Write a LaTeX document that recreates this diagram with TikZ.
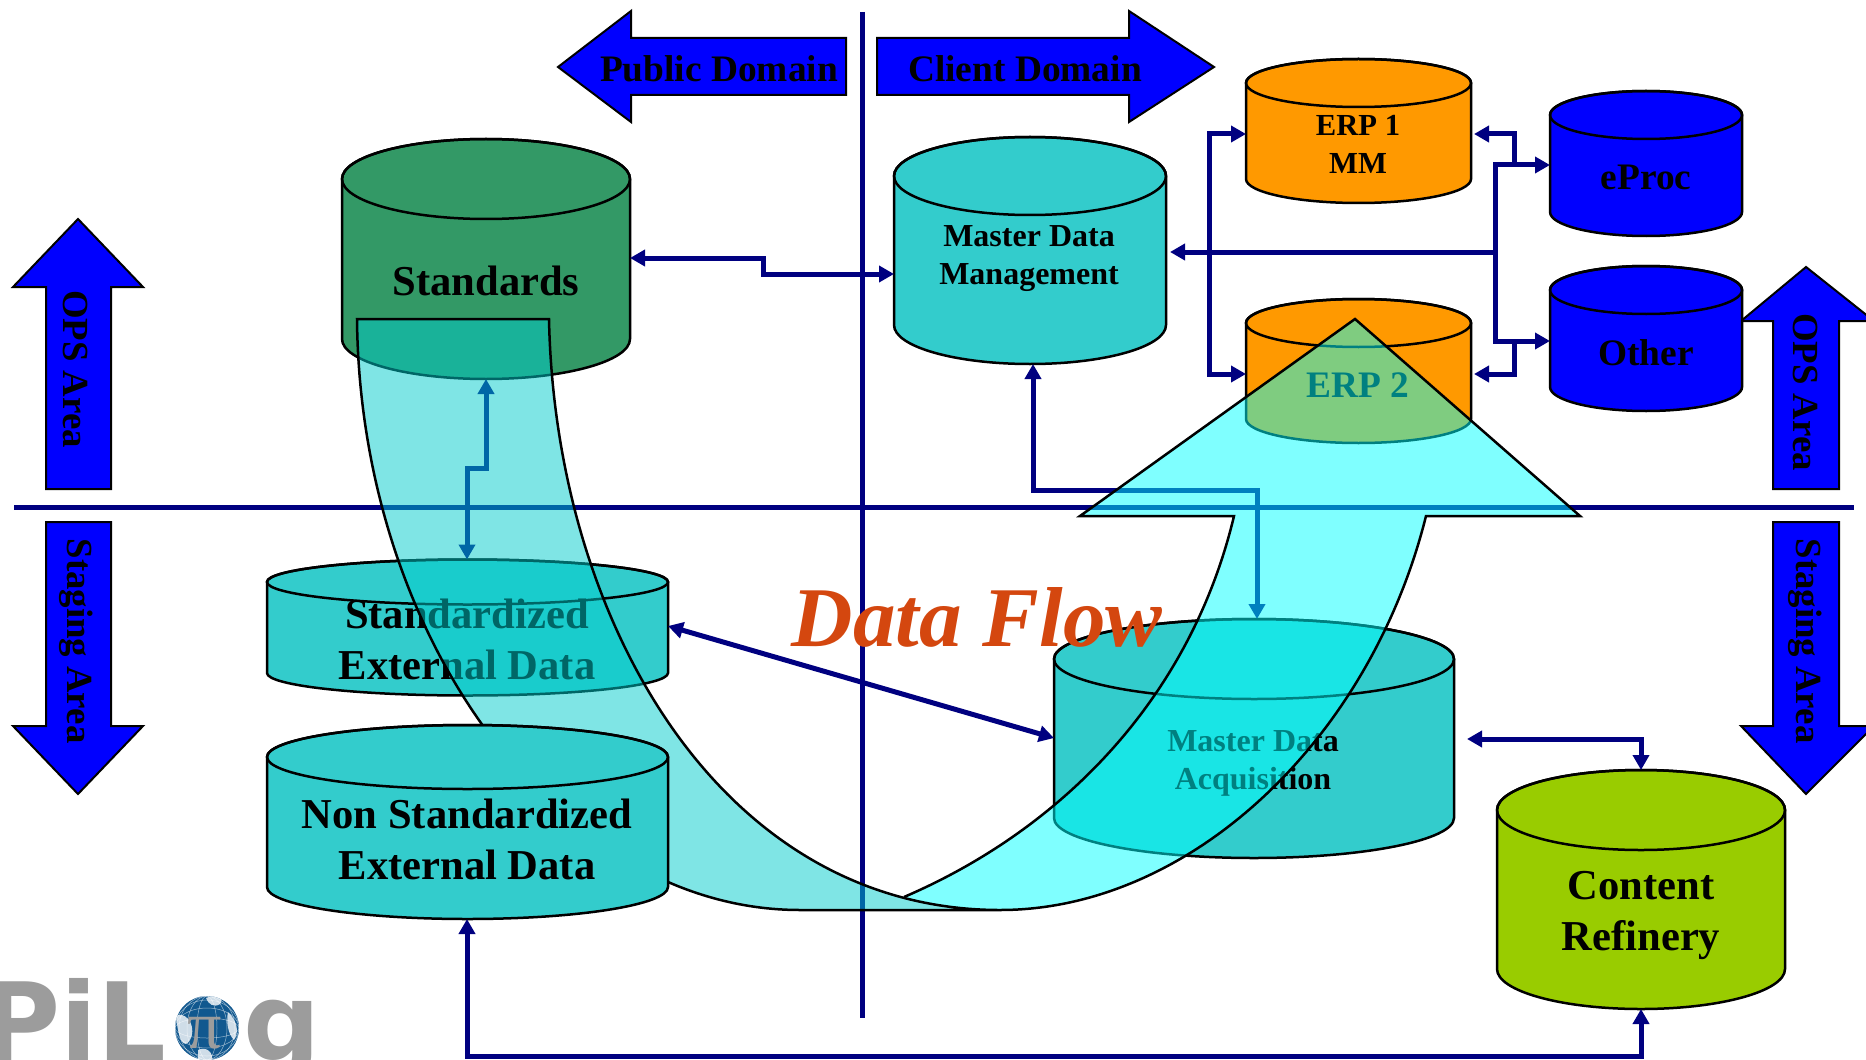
\documentclass[tikz,border=0pt]{standalone}
\usepackage{fontspec}
\setmainfont{Liberation Serif}
\newfontfamily\logofont{DejaVu Sans}
\usetikzlibrary{arrows.meta}
\definecolor{navy}{HTML}{000080}
\definecolor{stdgreen}{HTML}{339966}
\definecolor{tealc}{HTML}{33CCCC}
\definecolor{orangec}{HTML}{FF9900}
\definecolor{bluec}{HTML}{0000FF}
\definecolor{limec}{HTML}{99CC00}
\definecolor{flowtext}{HTML}{D4470F}
\definecolor{logogray}{HTML}{9C9C9C}
\definecolor{globeblue}{HTML}{11588F}
\definecolor{flowup}{HTML}{00FFFF}
\definecolor{flowdown}{HTML}{00CCCC}
\newcommand\cylinderbox[7]{%
  \pgfmathsetmacro\cylcx{(#2+#3)/2}%
  \pgfmathsetmacro\cylrx{(#3-#2)/4}%
  \pgfmathsetmacro\cylry{#6/2}%
  \pgfmathsetmacro\cylmid{(#4+#5)/2}%
  \pgfmathsetmacro\cylw{(#3-#2)/2}%
  \pgfmathsetmacro\cylh{(#5-#4+2*#6)/2}%
  \draw[shapeline,fill=#7] (#2,#4) -- (#2,#5)
     arc[start angle=180,end angle=360,x radius=\cylrx pt,y radius=\cylry pt]
     -- (#3,#4) arc[start angle=0,end angle=180,x radius=\cylrx pt,y radius=\cylry pt] -- cycle;
  \draw[shapeline] (\cylcx,#4) ellipse[x radius=\cylrx pt,y radius=\cylry pt];
  \node[inner sep=0,outer sep=0,minimum width=\cylw pt,minimum height=\cylh pt] (#1) at (\cylcx,\cylmid) {};
}
\tikzset{
  shapeline/.style={draw=black,line width=1.25pt},
  axis/.style={navy,line width=2.5pt},
  conn/.style={navy,line width=2.5pt,{Triangle[length=7.5pt,width=8pt]}-{Triangle[length=7.5pt,width=8pt]}},
  connin/.style={navy,line width=2.5pt,-{Triangle[length=7.5pt,width=8pt]}},
  dirarrow/.style={draw=black,line width=1pt,fill=bluec,miter limit=3},
  big/.style={font=\bfseries\fontsize{21.3}{25.5}\selectfont,align=center,inner sep=0},
  mid/.style={font=\bfseries\fontsize{18.7}{22}\selectfont,align=center,inner sep=0},
  vertlabel/.style={font=\bfseries\fontsize{18.4}{22}\selectfont,align=center,inner sep=0,rotate=-90},
  small/.style={font=\bfseries\fontsize{16}{19}\selectfont,align=center,inner sep=0},
}
\begin{document}
\begin{tikzpicture}[x=0.5pt,y=-0.5pt]
\useasboundingbox (0,0) rectangle (1866,1059);
\clip (0,0) rectangle (1866,1059);
\fill[white] (0,0) rectangle (1866,1059);

% axes
\coordinate (vtop) at (862,12);
\coordinate (vbot) at (862,1018);
\coordinate (hleft) at (14,507);
\coordinate (hright) at (1854,507);
\draw[axis] (vtop) -- (vbot);
\draw[axis] (hleft) -- (hright);

% direction arrows
\draw[dirarrow] (558,67) -- (631,11) -- (631,38) -- (846,38) -- (846,95) -- (631,95) -- (631,122) -- cycle;
\node[mid] (pubdom) at (719,69) {Public Domain};
\draw[dirarrow] (877,38) -- (1129,38) -- (1129,11) -- (1214,67) -- (1129,122) -- (1129,95) -- (877,95) -- cycle;
\node[mid] (clidom) at (1025,69) {Client Domain};
\draw[dirarrow] (78,219) -- (143,287) -- (111,287) -- (111,489) -- (46,489) -- (46,287) -- (13,287) -- cycle;
\node[vertlabel] (opsl) at (76,369) {OPS Area};
\draw[dirarrow] (46,522) -- (111,522) -- (111,726) -- (143,726) -- (78,794) -- (13,726) -- (46,726) -- cycle;
\node[vertlabel] (stgl) at (76,641) {Staging Area};
\draw[dirarrow] (1806,267) -- (1874,321) -- (1839,321) -- (1839,489) -- (1773,489) -- (1773,321) -- (1741,321) -- cycle;
\node[vertlabel] (opsr) at (1805,392) {OPS Area};
\draw[dirarrow] (1773,522) -- (1839,522) -- (1839,726) -- (1874,726) -- (1806,794) -- (1741,726) -- (1773,726) -- cycle;
\node[vertlabel] (stgr) at (1805,641) {Staging Area};

% cylinders under the flow shapes
\cylinderbox{standards}{342}{630}{179}{339}{40}{stdgreen}
\node[big] (standardstxt) at (486,281) {Standards};
\cylinderbox{mdm}{894}{1166}{176}{325}{39}{tealc}
\node[small] (mdmtxt) at (1029,259) {Master Data\\Management};
\cylinderbox{erpone}{1246}{1471}{83}{179}{24}{orangec}
\node[font=\bfseries\fontsize{15.3}{19}\selectfont,align=center,inner sep=0] (erponetxt) at (1358,144) {ERP 1\\MM};
\cylinderbox{erptwo}{1246}{1471}{323}{419}{24}{orangec}
\node[mid] (erptwotxt) at (1358,385) {ERP 2};
\cylinderbox{eproc}{1550}{1742}{115}{212}{24}{bluec}
\node[mid] (eproctxt) at (1646,177) {eProc};
\cylinderbox{other}{1550}{1742}{290}{387}{24}{bluec}
\node[mid] (othertxt) at (1646,353) {Other};
\cylinderbox{stdext}{267}{668}{582}{673}{22.5}{tealc}
\node[big] (stdexttxt) at (467,639) {Standardized\\External Data};
\cylinderbox{mda}{1054}{1454}{659}{818}{40}{tealc}
\node[small] (mdatxt) at (1253,763) {Master Data\\Acquisition};
\cylinderbox{refinery}{1497}{1785}{810}{969}{40}{limec}
\node[big] (refinerytxt) at (1641,915) {Content\\Refinery};

% connectors
\draw[conn] (standards.east |- 0,258) -- (763,258) -- (763,274) -- (mdm.west |- 0,274);
\draw[conn] (standards.south -| 486,0) -- (486,468) -- (467,468) -- (stdext.north -| 467,0);
\draw[conn] (stdext.east |- 0,626) -- (mda.west |- 0,738);
\draw[conn] (mdm.south -| 1033,0) -- (1033,490) -- (1257,490) -- (mda.north -| 1257,0);
\draw[connin,shorten >=2pt] (1495,252) -- (mdm.east |- 0,252);
\draw[conn] (eproc.west |- 0,165) -- (1495,165) -- (1495,341) -- (other.west |- 0,341);
\draw[connin,shorten >=1.5pt] (1514,165) -- (1514,134) -- (erpone.east |- 0,134);
\draw[connin,shorten >=1.5pt] (1514,341) -- (1514,374) -- (erptwo.east |- 0,374);
\draw[conn] (erpone.west |- 0,134) -- (1209,134) -- (1209,374) -- (erptwo.west |- 0,374);
\draw[conn,shorten <=6.5pt] (mda.east |- 0,739) -- (1641,739) -- (refinery.north -| 1641,0);

% upward flow
\path[fill=flowup,fill opacity=.5] (1355,319) -- (1580,516) -- (1426,516)
  .. controls (1370,740) and (1190,910) .. (1000,910)
  .. controls (965,910) and (935,907) .. (904,897)
  .. controls (1060,830) and (1190,700) .. (1234,516) -- (1080,516) -- cycle;
\draw[shapeline] (904,897) .. controls (1060,830) and (1190,700) .. (1234,516) -- (1080,516) -- (1355,319) -- (1580,516) -- (1426,516)
  .. controls (1370,740) and (1190,910) .. (1000,910);
% flow from Standards
\draw[shapeline,fill=flowdown,fill opacity=.5] (357,319) -- (549,319)
  .. controls (555,620) and (720,910) .. (1000,910) -- (800,910)
  .. controls (560,910) and (360,640) .. (357,319) -- cycle;

% cylinder above the flow
\cylinderbox{nonstd}{267}{668}{757}{887}{32}{tealc}
\node[big] (nonstdtxt) at (467,839) {Non Standardized\\External Data};
\draw[conn] (nonstd.south -| 467,0) -- (467,1056) -- (1641,1056) -- (refinery.south -| 1641,0);

\node[font=\bfseries\itshape\fontsize{42.5}{50}\selectfont,text=flowtext,inner sep=0] (flow) at (977,617) {Data Flow};

% logo
\node[anchor=base east,font=\logofont\bfseries\fontsize{54}{54}\selectfont,text=logogray,inner sep=0] (logoa) at (167,1060) {PiL};
\node[circle,fill=globeblue,minimum size=32pt,inner sep=0] (globe) at (207,1028) {};
\begin{scope}
\clip (207,1028) circle[radius=32];
\fill[white,opacity=.8] (176,1015) .. controls (190,1012) and (196,1030) .. (190,1040) .. controls (184,1050) and (178,1040) .. (176,1015) -- cycle;
\fill[white,opacity=.8] (206,998) .. controls (214,994) and (226,998) .. (220,1004) .. controls (214,1008) and (208,1004) .. (206,998) -- cycle;
\fill[white,opacity=.8] (198,1050) .. controls (206,1046) and (214,1052) .. (212,1062) -- (198,1062) -- cycle;
\fill[white,opacity=.8] (228,1012) .. controls (236,1020) and (240,1030) .. (234,1040) .. controls (228,1034) and (226,1022) .. (228,1012) -- cycle;
\foreach \r in {10,20,28}{
  \draw[white,opacity=.55,line width=.25pt] (207,1028) ellipse[x radius=\r*.5pt,y radius=16pt];
  \draw[white,opacity=.55,line width=.25pt] (207,1028) ellipse[x radius=16pt,y radius=\r*.5pt];
}
\end{scope}
\node[font=\fontsize{34}{34}\selectfont,text=logogray,inner sep=0] (logopi) at (205,1033) {π};
\node[anchor=base west,font=\logofont\bfseries\fontsize{54}{54}\selectfont,text=logogray,inner sep=0] (logob) at (243,1060) {g};
\end{tikzpicture}
\end{document}
